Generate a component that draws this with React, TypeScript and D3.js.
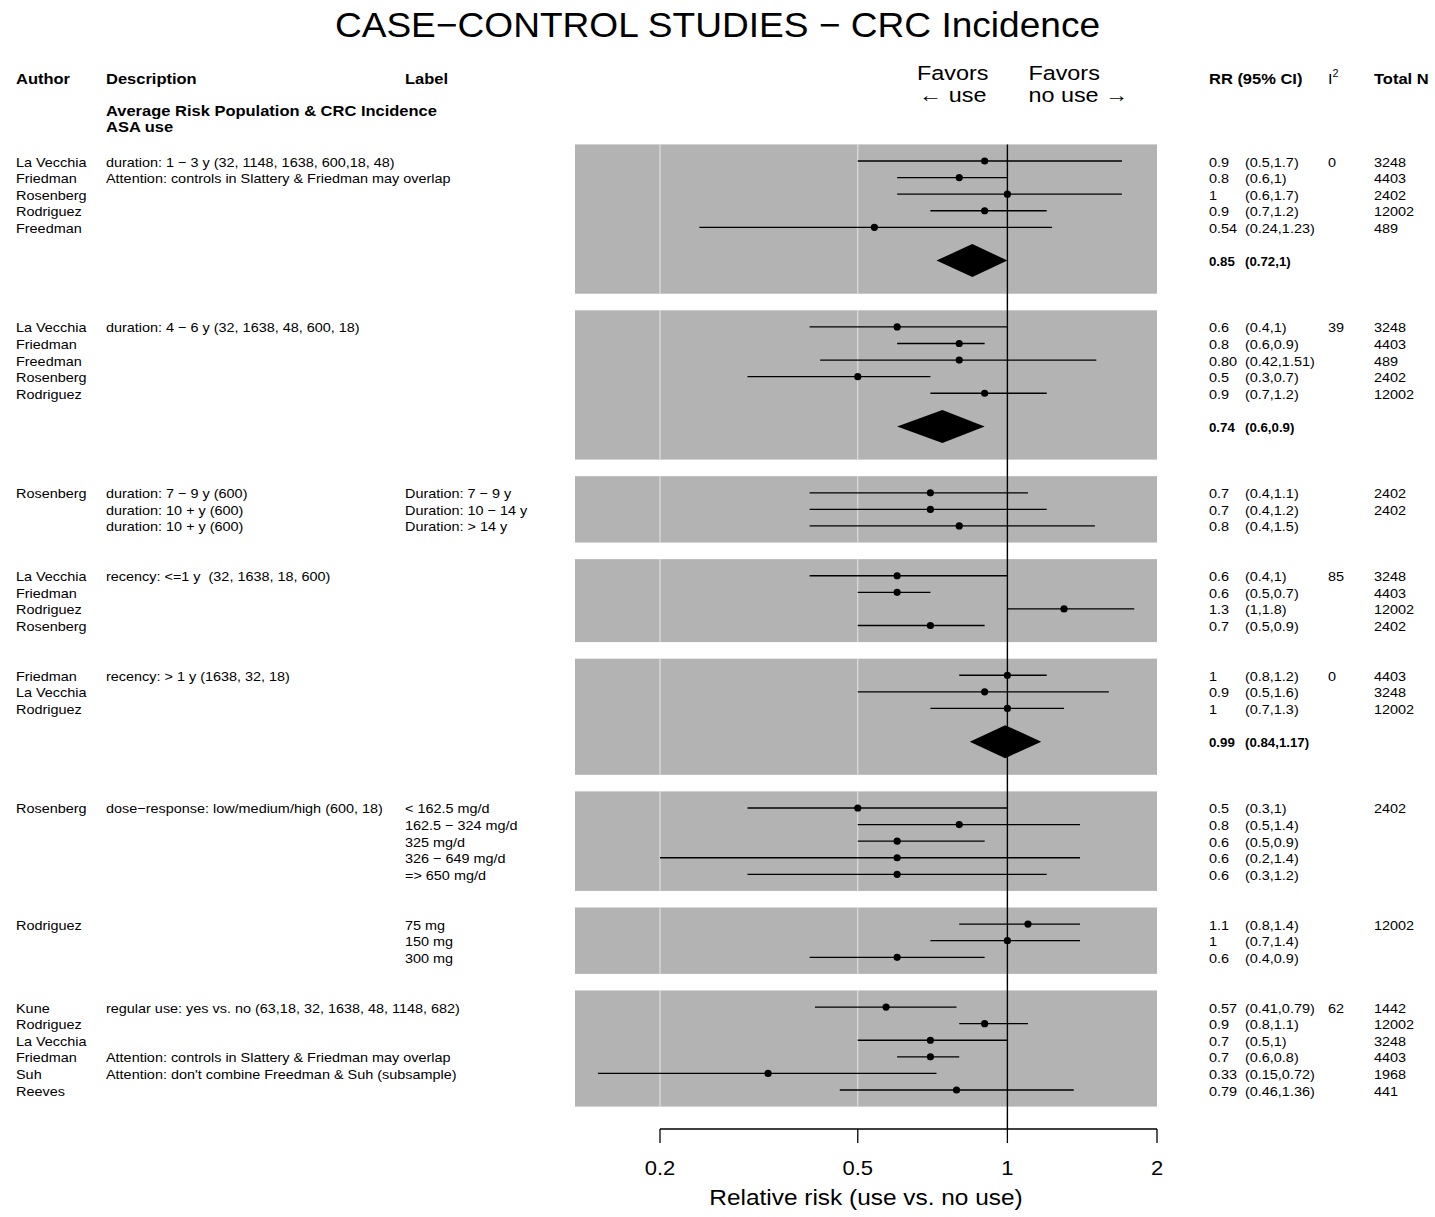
import React from "react";
import * as d3 from "d3";

// ---- Study rows (in display order) ----
const groupSizes = [5, 5, 3, 4, 3, 5, 3, 6];

const authors = [
  "La Vecchia", "Friedman", "Rosenberg", "Rodriguez", "Freedman",
  "La Vecchia", "Friedman", "Freedman", "Rosenberg", "Rodriguez",
  "Rosenberg", "", "",
  "La Vecchia", "Friedman", "Rodriguez", "Rosenberg",
  "Friedman", "La Vecchia", "Rodriguez",
  "Rosenberg", "", "", "", "",
  "Rodriguez", "", "",
  "Kune", "Rodriguez", "La Vecchia", "Friedman", "Suh", "Reeves",
];

const descriptions = [
  "duration: 1 \u2212 3 y (32, 1148, 1638, 600,18, 48)",
  "Attention: controls in Slattery & Friedman may overlap", "", "", "",
  "duration: 4 \u2212 6 y (32, 1638, 48, 600, 18)", "", "", "", "",
  "duration: 7 \u2212 9 y (600)", "duration: 10 + y (600)", "duration: 10 + y (600)",
  "recency: <=1 y  (32, 1638, 18, 600)", "", "", "",
  "recency: > 1 y (1638, 32, 18)", "", "",
  "dose\u2212response: low/medium/high (600, 18)", "", "", "", "",
  "", "", "",
  "regular use: yes vs. no (63,18, 32, 1638, 48, 1148, 682)", "", "",
  "Attention: controls in Slattery & Friedman may overlap",
  "Attention: don't combine Freedman & Suh (subsample)", "",
];

const labels = [
  "", "", "", "", "",
  "", "", "", "", "",
  "Duration: 7 \u2212 9 y", "Duration: 10 \u2212 14 y", "Duration: > 14 y",
  "", "", "", "",
  "", "", "",
  "< 162.5 mg/d", "162.5 \u2212 324 mg/d", "325 mg/d", "326 \u2212 649 mg/d", "=> 650 mg/d",
  "75 mg", "150 mg", "300 mg",
  "", "", "", "", "", "",
];

const rrText = [
  "0.9", "0.8", "1", "0.9", "0.54",
  "0.6", "0.8", "0.80", "0.5", "0.9",
  "0.7", "0.7", "0.8",
  "0.6", "0.6", "1.3", "0.7",
  "1", "0.9", "1",
  "0.5", "0.8", "0.6", "0.6", "0.6",
  "1.1", "1", "0.6",
  "0.57", "0.9", "0.7", "0.7", "0.33", "0.79",
];

const loText = [
  "0.5", "0.6", "0.6", "0.7", "0.24",
  "0.4", "0.6", "0.42", "0.3", "0.7",
  "0.4", "0.4", "0.4",
  "0.4", "0.5", "1", "0.5",
  "0.8", "0.5", "0.7",
  "0.3", "0.5", "0.5", "0.2", "0.3",
  "0.8", "0.7", "0.4",
  "0.41", "0.8", "0.5", "0.6", "0.15", "0.46",
];

const hiText = [
  "1.7", "1", "1.7", "1.2", "1.23",
  "1", "0.9", "1.51", "0.7", "1.2",
  "1.1", "1.2", "1.5",
  "1", "0.7", "1.8", "0.9",
  "1.2", "1.6", "1.3",
  "1", "1.4", "0.9", "1.4", "1.2",
  "1.4", "1.4", "0.9",
  "0.79", "1.1", "1", "0.8", "0.72", "1.36",
];

const i2Text = [
  "0", "", "", "", "",
  "39", "", "", "", "",
  "", "", "",
  "85", "", "", "",
  "0", "", "",
  "", "", "", "", "",
  "", "", "",
  "62", "", "", "", "", "",
];

const totalN = [
  "3248", "4403", "2402", "12002", "489",
  "3248", "4403", "489", "2402", "12002",
  "2402", "2402", "",
  "3248", "4403", "12002", "2402",
  "4403", "3248", "12002",
  "2402", "", "", "", "",
  "12002", "", "",
  "1442", "12002", "3248", "4403", "1968", "441",
];

// ---- Pooled estimates ----
const summaryGroup = [0, 1, 4];
const summaryRR = ["0.85", "0.74", "0.99"];
const summaryLo = ["0.72", "0.6", "0.84"];
const summaryHi = ["1", "0.9", "1.17"];

// ---- Axis ----
const axisTicks = [0.2, 0.5, 1, 2];
const tickLabels = ["0.2", "0.5", "1", "2"];

const FONT = "'Liberation Sans', Arial, Helvetica, sans-serif";

type TProps = {
  x: number;
  y: number;
  size?: number;
  weight?: string;
  anchor?: "start" | "middle" | "end";
  stretch?: number;
  children: React.ReactNode;
};

function T({ x, y, size = 13, weight = "normal", anchor = "start", stretch = 1.11, children }: TProps) {
  return (
    <text
      transform={`translate(${x},${y}) scale(${stretch},1)`}
      fontSize={size}
      fontWeight={weight}
      textAnchor={anchor}
      fontFamily={FONT}
      fill="#000"
      style={{ whiteSpace: "pre" }}
    >
      {children}
    </text>
  );
}

export default function App() {
  const W = 1435;
  const H = 1217;

  const x = d3.scaleLog().domain([0.2, 2]).range([660, 1157]);
  const row = d3.scaleLinear().domain([0, 56]).range([161, 1090]);

  const panelLeft = 575;
  const panelRight = x(2);
  const axisY = 1129;

  // Row layout: each group sits in its own shaded band
  const rowIndex: number[] = [];
  const panels: { top: number; bottom: number }[] = [];
  const diamondRow: Record<number, number> = {};
  let r = 0;
  let k = 0;
  groupSizes.forEach((n, g) => {
    const top = r - 1;
    for (let i = 0; i < n; i++) rowIndex[k++] = r++;
    let bottom = r;
    const s = summaryGroup.indexOf(g);
    if (s >= 0) {
      diamondRow[s] = r + 1;
      bottom = r + 3;
    }
    panels.push({ top, bottom });
    r = bottom + 2;
  });

  const textDy = 5.5;
  const colAuthor = 16;
  const colDesc = 106;
  const colLabel = 405;
  const colRR = 1209;
  const colCI = 1245;
  const colI2 = 1328;
  const colN = 1374;

  const refX = x(1);

  return (
    <svg
      width={W}
      height={H}
      style={{ position: "absolute", left: 0, top: 0, display: "block", background: "#fff" }}
    >
      <rect x={0} y={0} width={W} height={H} fill="#fff" />

      {/* Title */}
      <T x={W / 2} y={37} size={35} anchor="middle" stretch={1.06}>
        CASE{"\u2212"}CONTROL STUDIES {"\u2212"} CRC Incidence
      </T>

      {/* Column headers */}
      <T x={colAuthor} y={84} size={15} weight="bold" stretch={1.1}>Author</T>
      <T x={colDesc} y={84} size={15} weight="bold" stretch={1.1}>Description</T>
      <T x={colLabel} y={84} size={15} weight="bold" stretch={1.1}>Label</T>
      <T x={colRR} y={84} size={15} weight="bold" stretch={1.1}>RR (95% CI)</T>
      <text
        transform={`translate(${colI2},84) scale(1.08,1)`}
        fontFamily={FONT}
        fontSize={15}
      >
        I<tspan fontSize={10} dy={-7}>2</tspan>
      </text>
      <T x={colN} y={84} size={15} weight="bold" stretch={1.1}>Total N</T>

      <T x={colDesc} y={116} size={15} weight="bold" stretch={1.1}>
        Average Risk Population &amp; CRC Incidence
      </T>
      <T x={colDesc} y={132} size={15} weight="bold" stretch={1.1}>ASA use</T>

      {/* Direction labels */}
      <T x={refX - 19} y={80} size={19.5} anchor="end" stretch={1.2}>Favors</T>
      <T x={refX - 21} y={102} size={19.5} anchor="end" stretch={1.2}>{"\u2190"} use</T>
      <T x={refX + 21} y={80} size={19.5} stretch={1.2}>Favors</T>
      <T x={refX + 21} y={102} size={19.5} stretch={1.2}>no use {"\u2192"}</T>

      {/* Shaded bands with grid lines */}
      {panels.map((p, i) => {
        const y0 = row(p.top);
        const y1 = row(p.bottom);
        return (
          <g key={`p${i}`}>
            <rect x={panelLeft} y={y0} width={panelRight - panelLeft} height={y1 - y0} fill="#b3b3b3" />
            {axisTicks.slice(0, 3).map((t) => (
              <line key={t} x1={x(t)} x2={x(t)} y1={y0} y2={y1} stroke="#e6e6e6" strokeWidth={1} />
            ))}
          </g>
        );
      })}

      {/* Reference line at RR = 1 */}
      <line x1={refX} x2={refX} y1={row(panels[0].top)} y2={axisY} stroke="#000" strokeWidth={1.4} />

      {/* Study estimates */}
      {rrText.map((rt, i) => {
        const y = row(rowIndex[i]);
        const est = +rt;
        const lo = +loText[i];
        const hi = +hiText[i];
        return (
          <g key={`s${i}`}>
            <line x1={x(lo)} x2={x(hi)} y1={y} y2={y} stroke="#000" strokeWidth={1.3} />
            <circle cx={x(est)} cy={y} r={3.6} fill="#000" />
          </g>
        );
      })}

      {/* Pooled diamonds */}
      {summaryRR.map((st, s) => {
        const y = row(diamondRow[s]);
        const h = 16.5;
        const est = +st;
        const lo = +summaryLo[s];
        const hi = +summaryHi[s];
        const pts = [
          [x(lo), y],
          [x(est), y - h],
          [x(hi), y],
          [x(est), y + h],
        ]
          .map((p) => p.join(","))
          .join(" ");
        return <polygon key={`d${s}`} points={pts} fill="#000" />;
      })}

      {/* Row text */}
      {rrText.map((rt, i) => {
        const y = row(rowIndex[i]) + textDy;
        return (
          <g key={`t${i}`}>
            {authors[i] && <T x={colAuthor} y={y}>{authors[i]}</T>}
            {descriptions[i] && <T x={colDesc} y={y}>{descriptions[i]}</T>}
            {labels[i] && <T x={colLabel} y={y}>{labels[i]}</T>}
            <T x={colRR} y={y}>{rt}</T>
            <T x={colCI} y={y}>{`(${loText[i]},${hiText[i]})`}</T>
            {i2Text[i] && <T x={colI2} y={y}>{i2Text[i]}</T>}
            {totalN[i] && <T x={colN} y={y}>{totalN[i]}</T>}
          </g>
        );
      })}

      {/* Pooled text */}
      {summaryRR.map((st, s) => {
        const y = row(diamondRow[s]) + textDy;
        return (
          <g key={`st${s}`}>
            <T x={colRR} y={y} weight="bold" stretch={1.02}>{st}</T>
            <T x={colCI} y={y} weight="bold" stretch={1.02}>{`(${summaryLo[s]},${summaryHi[s]})`}</T>
          </g>
        );
      })}

      {/* X axis */}
      <line x1={x(0.2)} x2={x(2)} y1={axisY} y2={axisY} stroke="#000" strokeWidth={1.3} />
      {axisTicks.map((t, i) => (
        <g key={`ax${i}`}>
          <line x1={x(t)} x2={x(t)} y1={axisY} y2={axisY + 14} stroke="#000" strokeWidth={1.3} />
          <T x={x(t)} y={1175} size={20} anchor="middle" stretch={1.1}>{tickLabels[i]}</T>
        </g>
      ))}
      <T x={(panelLeft + panelRight) / 2} y={1205} size={22} anchor="middle" stretch={1.11}>
        Relative risk (use vs. no use)
      </T>
    </svg>
  );
}
